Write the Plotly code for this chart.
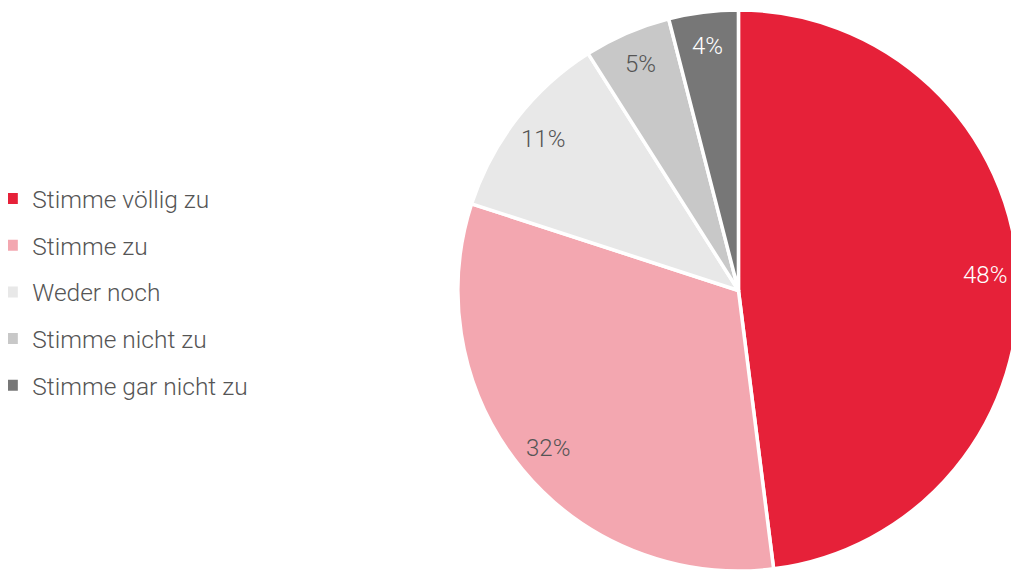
import math
import plotly.graph_objects as go

labels = ["Stimme völlig zu", "Stimme zu", "Weder noch", "Stimme nicht zu", "Stimme gar nicht zu"]
values = [48, 32, 11, 5, 4]
colors = ["#E62139", "#F3A7B0", "#E8E8E8", "#C8C8C8", "#777777"]
text_colors = ["#FFFFFF", "#555555", "#555555", "#555555", "#FFFFFF"]

FONT = "Roboto"
W, H = 1011, 565          # page body adds an 8px offset inside the 1019x573 window
DOM_X = [0.445, 1.0]
DOM_Y = [0.0, 1.0]
LABEL_R = 0.88            # label distance as fraction of radius

fig = go.Figure()

fig.add_trace(go.Pie(
    labels=labels,
    values=values,
    sort=False,
    direction="clockwise",
    rotation=0,
    marker=dict(colors=colors, line=dict(color="#FFFFFF", width=3.5)),
    textinfo="none",
    domain=dict(x=DOM_X, y=DOM_Y),
    showlegend=False,
    hoverinfo="label+percent",
))

# legend entries (one group each so that the spacing can be set)
for lbl, col in zip(labels, colors):
    fig.add_trace(go.Scatter(
        x=[None], y=[None], mode="markers", name=lbl, legendgroup=lbl,
        marker=dict(symbol="square", size=11, color=col),
        showlegend=True, hoverinfo="skip",
    ))

# percentage labels placed along each slice's middle angle
r = min(W * (DOM_X[1] - DOM_X[0]), H * (DOM_Y[1] - DOM_Y[0])) / 2
cx = W * (DOM_X[0] + DOM_X[1]) / 2
cy = H * (1 - (DOM_Y[0] + DOM_Y[1]) / 2)
total = sum(values)
cum = 0
annotations = []
for v, tc in zip(values, text_colors):
    mid = (cum + v / 2) / total * 2 * math.pi
    cum += v
    px = cx + LABEL_R * r * math.sin(mid)
    py = cy - LABEL_R * r * math.cos(mid)
    annotations.append(dict(
        x=px / W, y=1 - py / H, xref="paper", yref="paper",
        text=f"{v}%", showarrow=False, xanchor="center", yanchor="middle",
        font=dict(family=FONT, size=24, color=tc, weight=300),
    ))

fig.update_layout(
    width=W,
    height=H,
    margin=dict(l=0, r=0, t=0, b=0, pad=0, autoexpand=False),
    paper_bgcolor="white",
    plot_bgcolor="white",
    font=dict(family=FONT, color="#555555", weight=300),
    xaxis=dict(visible=False),
    yaxis=dict(visible=False),
    legend=dict(
        x=-0.0155, y=0.497, xanchor="left", yanchor="middle",
        font=dict(family=FONT, size=24.5, color="#555555", weight=300),
        tracegroupgap=11.8,
        traceorder="grouped",
        bgcolor="rgba(0,0,0,0)",
    ),
    annotations=annotations,
)

fig.write_html("out.html")
